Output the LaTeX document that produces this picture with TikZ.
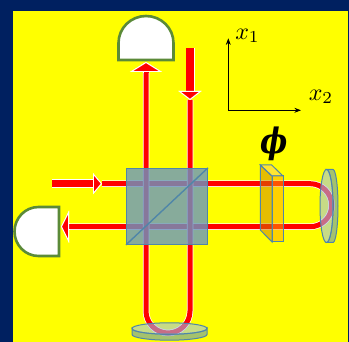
\documentclass[tikz,border=0pt]{standalone}
\usepackage{fontspec}
\usepackage{amsmath}
\usepackage{amssymb}
\usepackage{xcolor}
\usetikzlibrary{arrows.meta, positioning, calc}
\newfontfamily\phasefont{DejaVu Serif}
\definecolor{navyback}{HTML}{002060}
\definecolor{backyellow}{HTML}{FFFF00}
\definecolor{detgreen}{HTML}{5B8A38}
\definecolor{optedge}{HTML}{4F86A8}
\definecolor{cubeblue}{RGB}{105,150,194}
\definecolor{mirrorface}{RGB}{158,193,237}
\definecolor{mirrorside}{RGB}{96,149,193}
\definecolor{platedark}{RGB}{205,125,0}
\definecolor{platelight}{RGB}{255,165,0}
\definecolor{platetop}{RGB}{255,205,100}
\tikzset{
    setup/.style={x=1pt, y=-1pt, >=Stealth},
    beam/.style={draw=red, line width=5pt, preaction={draw=white, line width=6.5pt}},
    bigbeam/.style={draw=red, line width=7.5pt, preaction={draw=white, line width=9pt}},
    % beam ends: outlined in white
    beamtip/.style 2 args={-{Triangle[length=#1, width=#2, fill=red, color=white, line width=0.9pt]}},
    detector/.style={draw=detgreen, line width=2.6pt, fill=white},
    cube/.style={draw=optedge, line width=1pt, fill=cubeblue, fill opacity=0.8, minimum width=81pt, minimum height=76pt, inner sep=0pt},
    mirror/.style={draw=optedge, line width=1pt, fill=#1, fill opacity=0.57},
    plate/.style={draw=optedge, line width=1pt, fill=#1, fill opacity=0.5},
    axis/.style={->, line width=0.8pt},
    axislabel/.style={scale=2.4, inner sep=0pt},
}
\begin{document}
\begin{tikzpicture}[setup]
    \useasboundingbox (0,0) rectangle (349,342);
    \fill[navyback] (0,0) rectangle (349,342);
    \fill[backyellow] (13,11) rectangle (348,342);

    \coordinate (in)    at (52,183.7);
    \coordinate (inh)   at (102,183.7);
    \coordinate (armt)  at (310.2,183.7);
    \coordinate (armb)  at (310.2,226.7);
    \coordinate (outl)  at (61,226.7);
    \coordinate (top)   at (190,48);
    \coordinate (toph)  at (190,100);
    \coordinate (ul)    at (146,311);
    \coordinate (ur)    at (190,311);
    \coordinate (outt)  at (146,62);
    \coordinate (orig)  at (228.3,110.3);
    \coordinate (xup)   at (228.3,38.3);
    \coordinate (xright) at (301,110.3);

    % beams
    \draw[beam] (inh) -- (armt) arc[start angle=-90, end angle=90, radius=21.5] -- (armb) -- ($(outl)+(8,0)$);
    \draw[beam, beamtip={8pt}{32pt}] ($(outl)+(8,0)$) -- (outl);
    \draw[beam] (toph) -- (ur) arc[start angle=0, end angle=180, radius=22] -- (ul) -- ($(outt)+(0,10)$);
    \draw[beam, beamtip={10pt}{32pt}] ($(outt)+(0,10)$) -- (outt);
    \draw[bigbeam, beamtip={9pt}{21pt}] (in) -- (inh);
    \draw[bigbeam, beamtip={9pt}{23pt}] (top) -- (toph);

    % detectors
    \draw[detector] (118.5,60) -- (118.5,43) arc[start angle=180, end angle=360, x radius=27.5, y radius=27] -- (173.5,60) -- cycle;
    \draw[detector] (59,207) -- (38.5,207) arc[start angle=-90, end angle=-270, x radius=24, y radius=24.5] -- (59,256) -- cycle;

    % beam splitter
    \node[cube] (bs) at (167,206.3) {};
    \draw[optedge, line width=1.4pt] (bs.south west) -- (bs.north east);

    % phase plate
    \draw[plate=platedark] (260.3,165) -- (272,176) -- (272,242) -- (260.3,230) -- cycle;
    \draw[plate=platelight] (272,176) -- (283,176) -- (283,242) -- (272,242) -- cycle;
    \draw[plate=platetop] (260.3,165) -- (271.7,165) -- (283,176) -- (272,176) -- cycle;

    % mirrors
    \draw[mirror=mirrorside] (326.5,169.5) -- (333,169.5) arc[start angle=-90, end angle=90, x radius=5, y radius=36.5] -- (326.5,242.5) arc[start angle=90, end angle=-90, x radius=6.5, y radius=36.5] -- cycle;
    \draw[mirror=mirrorface] (326.5,206) ellipse [x radius=6.5, y radius=36.5];
    \draw[mirror=mirrorside] (132,328.5) -- (132,334.5) arc[start angle=180, end angle=0, x radius=37.5, y radius=5.7] -- (207,328.5) arc[start angle=0, end angle=180, x radius=37.5, y radius=5.7] -- cycle;
    \draw[mirror=mirrorface] (169.5,328.5) ellipse [x radius=37.5, y radius=5.7];

    % axes
    \draw[axis] (orig) -- (xup);
    \draw[axis] (orig) -- (xright);
    \node[axislabel] (lx1) at (247.5,36) {$x_1$};
    \node[axislabel] (lx2) at (321,97) {$x_2$};
    \node[xscale=2.9, yscale=3.5, inner sep=0pt] (lphi) at (274,144) {\phasefont\bfseries\itshape ϕ};
\end{tikzpicture}
\end{document}
